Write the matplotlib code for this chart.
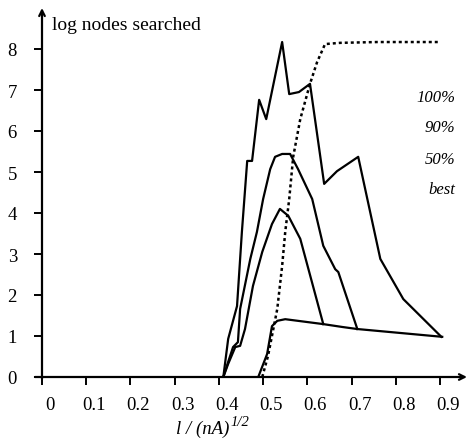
import numpy as np
import matplotlib
matplotlib.use("Agg")
import matplotlib.pyplot as plt
import matplotlib.transforms as mtransforms

# -------------------------------------------------------------------------
# Data (x = l/(nA)^1/2, y = log nodes searched)
# -------------------------------------------------------------------------
x_100 = [0.410, 0.421, 0.441, 0.452, 0.464, 0.475, 0.491, 0.507, 0.543, 0.559,
         0.581, 0.606, 0.638, 0.667, 0.715, 0.765, 0.817, 0.903]
y_100 = [0.00, 0.93, 1.73, 3.54, 5.27, 5.27, 6.76, 6.29, 8.17, 6.90,
         6.95, 7.15, 4.71, 5.02, 5.37, 2.88, 1.90, 0.98]

x_90 = [0.410, 0.421, 0.432, 0.443, 0.448, 0.471, 0.486, 0.500, 0.516, 0.527,
        0.543, 0.561, 0.579, 0.611, 0.636, 0.663, 0.670, 0.713]
y_90 = [0.00, 0.37, 0.73, 0.85, 1.66, 2.88, 3.54, 4.34, 5.07, 5.37,
        5.44, 5.44, 5.07, 4.34, 3.20, 2.63, 2.56, 1.17]

x_50 = [0.410, 0.421, 0.437, 0.448, 0.459, 0.477, 0.498, 0.520, 0.538, 0.557,
        0.584, 0.636]
y_50 = [0.00, 0.32, 0.73, 0.76, 1.17, 2.22, 3.05, 3.73, 4.10, 3.93,
        3.37, 1.29]

x_best = [0.489, 0.509, 0.520, 0.532, 0.550, 0.636, 0.679, 0.713, 0.905]
y_best = [0.00, 0.56, 1.24, 1.37, 1.41, 1.29, 1.22, 1.17, 0.98]

x_dot = [0.498, 0.511, 0.532, 0.543, 0.550, 0.559, 0.568, 0.584, 0.606, 0.622,
         0.640, 0.674, 0.758, 0.896]
y_dot = [0.00, 0.51, 1.66, 2.71, 3.54, 4.34, 5.37, 6.29, 7.15, 7.68,
         8.12, 8.15, 8.17, 8.17]

labels = ["100%", "90%", "50%", "best"]
label_y = [6.83, 6.10, 5.32, 4.59]

x_ticks = [0, 0.1, 0.2, 0.3, 0.4, 0.5, 0.6, 0.7, 0.8, 0.9]
x_ticklabels = ["0", "0.1", "0.2", "0.3", "0.4", "0.5", "0.6", "0.7", "0.8", "0.9"]
y_ticks = [0, 1, 2, 3, 4, 5, 6, 7, 8]

# -------------------------------------------------------------------------
# Figure
# -------------------------------------------------------------------------
plt.rcParams["font.family"] = ["Liberation Serif", "DejaVu Serif"]

fig = plt.figure(figsize=(4.67, 4.39), dpi=100)
ax = fig.add_axes([42 / 467, 61 / 439, 425 / 467, 369 / 439])
ax.set_xlim(0, 0.961)
ax.set_ylim(0, 9.0)

lw = 1.6
ax.plot(x_100, y_100, color="black", lw=lw)
ax.plot(x_90, y_90, color="black", lw=lw)
ax.plot(x_50, y_50, color="black", lw=lw)
ax.plot(x_best, y_best, color="black", lw=lw)
ax.plot(x_dot, y_dot, color="black", lw=1.8, linestyle=(0, (1.2, 1.2)))

# axes with arrow heads
for s in ax.spines.values():
    s.set_visible(False)
ax.annotate("", xy=(0.961, 0), xytext=(-0.016, 0), xycoords="data",
            arrowprops=dict(arrowstyle="->", lw=1.6, color="black",
                            shrinkA=0, shrinkB=0), annotation_clip=False)
ax.annotate("", xy=(0, 9.0), xytext=(0, -0.05), xycoords="data",
            arrowprops=dict(arrowstyle="->", lw=1.6, color="black",
                            shrinkA=0, shrinkB=0), annotation_clip=False)

ax.set_xticks(x_ticks)
ax.set_xticklabels(x_ticklabels)
ax.set_yticks(y_ticks)
ax.tick_params(axis="x", direction="out", length=6, width=1.4, pad=8, labelsize=13.5)
ax.tick_params(axis="y", direction="out", length=6, width=1.4, pad=12, labelsize=13.5)
offset = mtransforms.ScaledTranslation(8 / 100, 0, fig.dpi_scale_trans)
for lab in ax.get_xticklabels():
    lab.set_transform(lab.get_transform() + offset)

ax.text(0.023, 8.6, "log nodes searched", fontsize=14, va="center", ha="left")

# x label: italic "l / (nA)" with a raised italic "1/2"
xl = ax.text(0.363, -1.25, "l / (nA)", fontsize=13.5, style="italic",
             ha="center", va="center", clip_on=False)
ax.annotate("1/2", xy=(1, 1), xycoords=xl, xytext=(1, 3), textcoords="offset points",
            fontsize=10.5, style="italic", ha="left", va="top")

for lab, ly in zip(labels, label_y):
    ax.text(0.935, ly, lab, fontsize=12, style="italic", ha="right", va="center")

fig.savefig("out.png", dpi=100)
